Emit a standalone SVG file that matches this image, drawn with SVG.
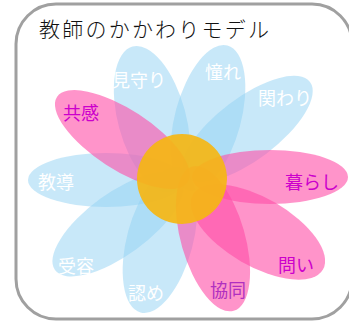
<svg xmlns="http://www.w3.org/2000/svg" width="349" height="323" viewBox="0 0 349 323">
<style>
.frame{fill:#ffffff;stroke:#a0a0a0;stroke-width:3}
.blue{fill:#92d2f4;opacity:0.5}
.pink{fill:#ff4da6;opacity:0.6}
.core{fill:#f5b614;opacity:0.92}
.t{font-family:"Noto Sans CJK JP","Noto Sans",sans-serif;font-size:18px}
.w{fill:#ffffff}
.m{fill:#cc00cc}
.title{font-family:"Noto Sans CJK JP","Noto Sans",sans-serif;font-size:21px;font-weight:300;fill:#111111}
</style>
<rect class="frame" x="16" y="4" width="336" height="315" rx="40" ry="40"/>
<text class="title" x="39" y="37" textLength="230" lengthAdjust="spacing">教師のかかわりモデル</text>
<g id="connectors"/>
<g id="petal-mimamori"><ellipse class="blue" transform="translate(152,119) rotate(-105)" rx="75" ry="34"/></g>
<g id="petal-akogare"><ellipse class="blue" transform="translate(208,118) rotate(-75)" rx="75" ry="33"/></g>
<g id="petal-kakawari"><ellipse class="blue" transform="translate(247.7,128.9) rotate(-37)" rx="78" ry="31"/></g>
<g id="petal-kyoudou"><ellipse class="blue" transform="translate(106,180) rotate(180)" rx="78" ry="27"/></g>
<g id="petal-juyou"><ellipse class="blue" transform="translate(118.1,224.2) rotate(144)" rx="78" ry="31"/></g>
<g id="petal-mitome"><ellipse class="blue" transform="translate(160,240) rotate(105)" rx="75" ry="33"/></g>
<g id="petal-kyoukan"><ellipse class="pink" transform="translate(122.4,139.5) rotate(-147)" rx="78" ry="30"/></g>
<g id="petal-kurashi"><ellipse class="pink" transform="translate(270,177) rotate(0)" rx="78" ry="27"/></g>
<g id="petal-toi"><ellipse class="pink" transform="translate(258,232) rotate(30)" rx="75" ry="34"/></g>
<g id="petal-kyoudou2"><ellipse class="pink" transform="translate(213,238.7) rotate(74)" rx="75" ry="32"/></g>
<g id="center"><circle class="core" cx="182" cy="179" r="45"/></g>
<g id="labels">
<text class="t w" x="112" y="87">見守り</text>
<text class="t w" x="205" y="79">憧れ</text>
<text class="t w" x="258" y="105">関わり</text>
<text class="t m" x="63" y="120">共感</text>
<text class="t w" x="38" y="189">教導</text>
<text class="t m" x="285" y="189">暮らし</text>
<text class="t w" x="58" y="273">受容</text>
<text class="t w" x="128" y="300">認め</text>
<text class="t m" x="210" y="297" style="fill:#b030c0">協同</text>
<text class="t m" x="278" y="272">問い</text>
</g>
</svg>
